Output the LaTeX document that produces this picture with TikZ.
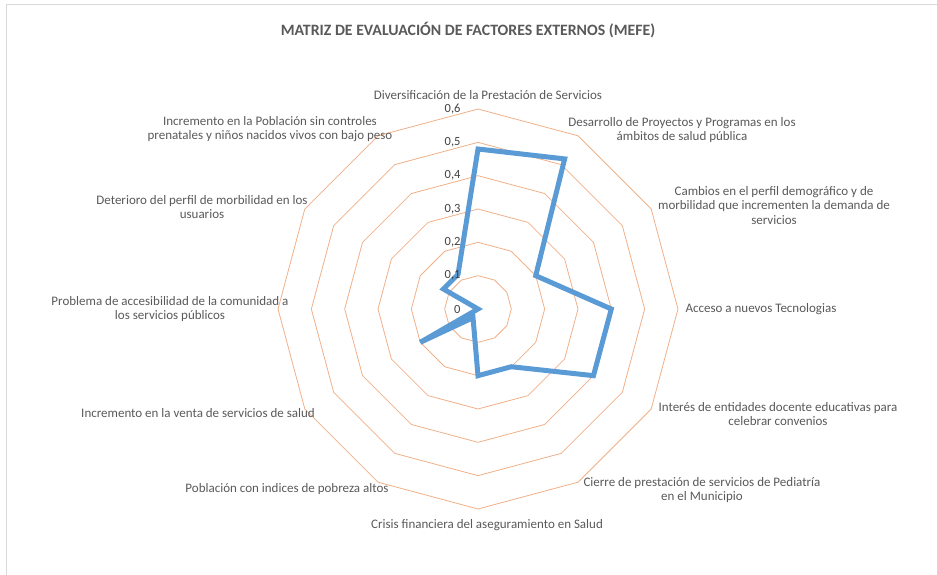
\documentclass[tikz,border=0pt]{standalone}
\usepackage{fontspec}
\setmainfont{Carlito}
\definecolor{labelgray}{HTML}{595959}
\definecolor{tickgray}{HTML}{404040}
\definecolor{ringorange}{HTML}{F0B088}
\definecolor{seriesblue}{HTML}{5B9BD5}
\definecolor{framegray}{HTML}{D9D9D9}

\begin{document}
\begin{tikzpicture}[x=1pt, y=-1pt, line join=miter]
\useasboundingbox (0,0) rectangle (937,575);
\draw[framegray, line width=1pt] (6,580) -- (6,5) -- (945,5);
\node[text=labelgray, font=\bfseries\fontsize{15.8}{18}\selectfont] (title) at (468,30) {MATRIZ DE EVALUACIÓN DE FACTORES EXTERNOS (MEFE)};
\begin{scope}[shift={(478,309)}]
  \foreach \k in {1,...,6}
    \draw[ringorange, line width=0.8pt] (-90:{\k*33.33}) \foreach \a in {-60,-30,...,240} {-- (\a:{\k*33.33})} -- cycle;
  \foreach \v [count=\i from 0] in {0.48,0.52,0.2,0.4,0.4,0.2,0.2,0.03,0.2,0,0.12,0.12}
    \coordinate (p\i) at ({-90+30*\i}:{\v*333.3});
  \draw[seriesblue, line width=5pt, miter limit=4] (p0) \foreach \i in {1,...,11} {-- (p\i)} -- cycle;
  \begin{scope}[every node/.style={anchor=east, text=tickgray, font=\fontsize{12.5}{14}\selectfont}]
  \node (t0) at (-14,0) {0};
  \foreach \k in {1,...,6}
    \node (t\k) at (-14,{-\k*33.33}) {0,\k};
  \end{scope}
\end{scope}
\begin{scope}[every node/.style={align=center, text=labelgray, font=\fontsize{13}{14.5}\selectfont}]
\node (l0) at (488,95) {Diversificación de la Prestación de Servicios};
\node (l1) at (682,130) {Desarrollo de Proyectos y Programas en los\\ámbitos de salud pública};
\node (l2) at (774,205.5) {Cambios en el perfil demográfico y de\\morbilidad que incrementen la demanda de\\servicios};
\node (l3) at (761,309) {Acceso a nuevos Tecnologias};
\node (l4) at (778,414) {Interés de entidades docente educativas para\\celebrar convenios};
\node (l5) at (702,490) {Cierre de prestación de servicios de Pediatría\\en el Municipio};
\node (l6) at (487,525) {Crisis financiera del aseguramiento en Salud};
\node (l7) at (287,489) {Población con indices de pobreza altos};
\node (l8) at (198,413) {Incremento en la venta de servicios de salud};
\node (l9) at (170,309) {Problema de accesibilidad de la comunidad a\\los servicios públicos};
\node (l10) at (202,207) {Deterioro del perfil de morbilidad en los\\usuarios};
\node (l11) at (270,129) {Incremento en la Población sin controles\\prenatales y niños nacidos vivos con bajo peso};
\end{scope}
\end{tikzpicture}
\end{document}
